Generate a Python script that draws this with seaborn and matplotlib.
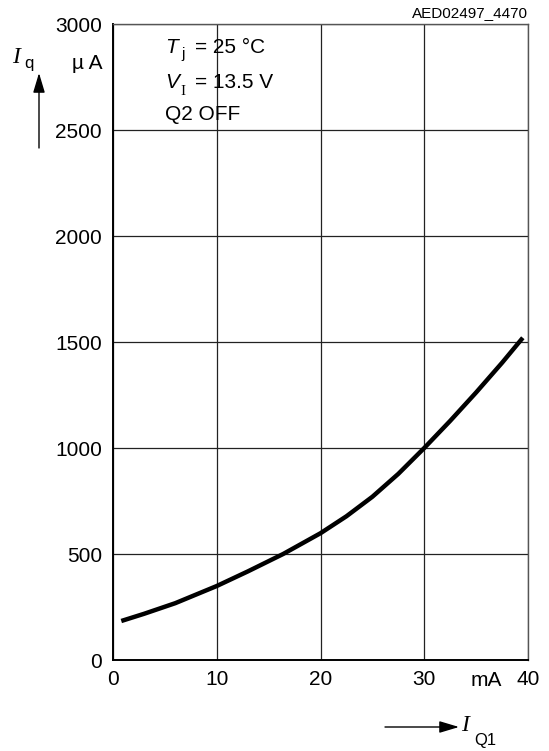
import matplotlib
matplotlib.use("Agg")
import matplotlib.pyplot as plt
import seaborn as sns
import pandas as pd

# Quiescent current vs. output current Q1
i_q1_mA = [0.8, 3, 6, 10, 13, 16.4, 20, 22.5, 25, 27.5, 30, 32.5, 35, 37.5, 39.5]
i_q_uA = [184, 218, 268, 349, 418, 500, 598, 678, 770, 878, 1000, 1128, 1262, 1402, 1520]

x_ticks = [0, 10, 20, 30, 40]
x_tick_labels = ["0", "10", "20", "30", "40"]
y_ticks = [0, 500, 1000, 1500, 2000, 2500, 3000]
y_tick_labels = ["0", "500", "1000", "1500", "2000", "2500", "3000"]

W, H = 549, 751
sns.set_theme(style="white")
plt.rcParams["font.family"] = ["Liberation Sans", "DejaVu Sans"]

fig = plt.figure(figsize=(W / 100, H / 100), dpi=100)
ax = fig.add_axes([113 / W, 1 - 660 / H, (528 - 113) / W, (660 - 24) / H])

df = pd.DataFrame({"IQ1": i_q1_mA, "Iq": i_q_uA})
sns.lineplot(data=df, x="IQ1", y="Iq", ax=ax, color="black", linewidth=3.2,
             solid_capstyle="butt", solid_joinstyle="round")

ax.set_xlim(0, 40)
ax.set_ylim(0, 3000)
ax.set_xticks(x_ticks)
ax.set_xticklabels(x_tick_labels)
ax.set_yticks(y_ticks)
ax.set_yticklabels(y_tick_labels)
ax.tick_params(axis="both", length=0, labelsize=15, colors="black")
ax.tick_params(axis="x", pad=7)
ax.tick_params(axis="y", pad=8)
ax.set_xlabel("")
ax.set_ylabel("")
ax.grid(True, color="#222222", linewidth=0.9)
for side, sp in ax.spines.items():
    sp.set_visible(True)
    sp.set_color("black" if side in ("left", "bottom") else "#555555")
    sp.set_linewidth(1.4 if side in ("left", "bottom") else 1.0)


def put(x, y, s, **kw):
    kw.setdefault("va", "baseline")
    kw.setdefault("ha", "left")
    kw.setdefault("fontsize", 15)
    kw.setdefault("color", "black")
    fig.text(x / W, 1 - y / H, s, **kw)


serif_it = dict(family="Liberation Serif", style="italic")

# y-axis label with upward arrow
put(12, 63, "I", fontsize=17, **serif_it)
put(24, 68, "q", fontsize=12)
put(102, 69, "µ A", ha="right")
ax.annotate("", xy=(39, H - 73), xytext=(39, H - 148),
            xycoords="figure pixels", textcoords="figure pixels",
            arrowprops=dict(arrowstyle="-|>,head_length=1.0,head_width=0.3",
                            color="black", lw=1.0, shrinkA=0, shrinkB=0))

# x-axis unit and label with right arrow
put(486, 690, "mA", ha="center", va="bottom")
put(461, 731, "I", fontsize=17, **serif_it)
put(474, 745, "Q1", fontsize=12)
ax.annotate("", xy=(459, H - 727), xytext=(385, H - 727),
            xycoords="figure pixels", textcoords="figure pixels",
            arrowprops=dict(arrowstyle="-|>,head_length=1.0,head_width=0.3",
                            color="black", lw=1.0, shrinkA=0, shrinkB=0))

# operating conditions
put(165, 53, "T", style="italic")
put(181, 58, "j", fontsize=11)
put(195, 53, "= 25 °C")
put(165, 88, "V", style="italic")
put(180, 95, "I", fontsize=11, family="Liberation Serif")
put(195, 88, "= 13.5 V")
put(165, 120, "Q2 OFF")

put(528, 17, "AED02497_4470", ha="right", fontsize=11)

fig.savefig("out.png", dpi=100, facecolor="white")
